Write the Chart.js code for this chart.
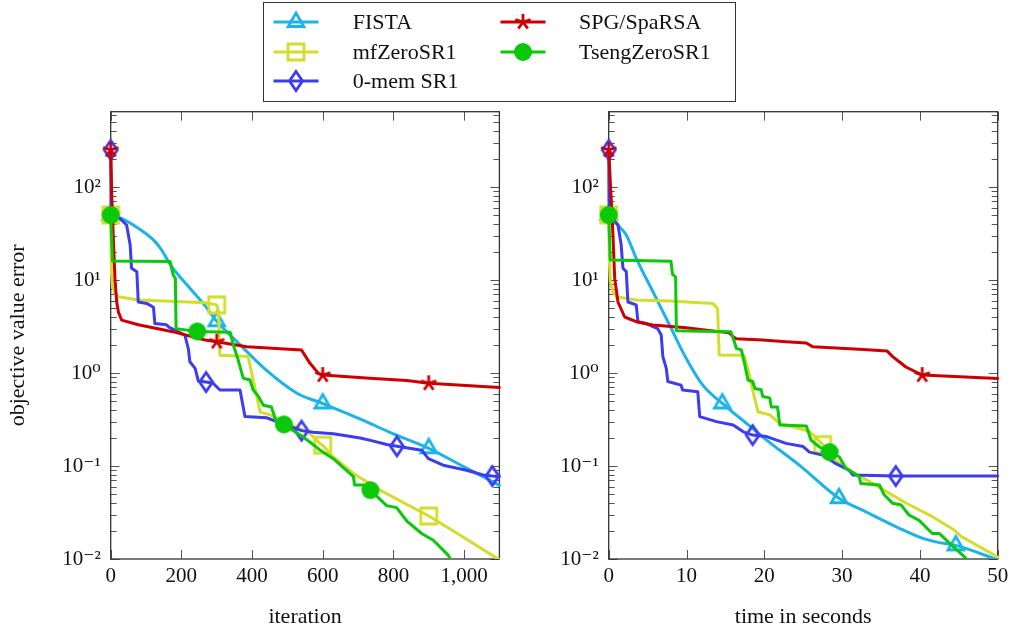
<!DOCTYPE html>
<html><head><meta charset="utf-8">
<script src="https://cdn.jsdelivr.net/npm/chart.js@4/dist/chart.umd.min.js"></script>
<style>
html,body{margin:0;padding:0;width:1012px;height:626px;overflow:hidden;background:#fff;}
.wrap{position:absolute;top:0;width:506px;height:640px;}
#legendBox{position:absolute;left:263px;top:2px;width:473px;height:100px;border:1.3px solid #333;box-sizing:border-box;}
.ltext{position:absolute;height:30px;line-height:30px;font-family:'Liberation Serif','DejaVu Serif',serif;font-size:22px;color:#111;white-space:nowrap;}
.lsym{position:absolute;}
</style>
</head><body>
<div class="wrap" style="left:0"><canvas id="c1" width="506" height="640"></canvas></div>
<div class="wrap" style="left:506px"><canvas id="c2" width="506" height="640"></canvas></div>
<div id="legendBox"></div>
<div id="legend"></div>
<script>
// ---------- tick labels ----------
const yTickValues = [0.01, 0.1, 1, 10, 100];
const yTickLabels = ['10\u207B\u00B2', '10\u207B\u00B9', '10\u2070', '10\u00B9', '10\u00B2'];
const xTicksIter = [0, 200, 400, 600, 800, 1000];
const xTickLabelsIter = ['0', '200', '400', '600', '800', '1,000'];
const xTicksTime = [0, 10, 20, 30, 40, 50];
const xTickLabelsTime = ['0', '10', '20', '30', '40', '50'];

// ---------- iteration panel ----------
const fistaIterX = [0,30,78,125,144,172,220,267,300,361,437,526,600,715,790,900,1000,1100];
const fistaIterY = [50,46,36,26,21,14,8.5,5.3,3.6,2.1,1.1,0.61,0.47,0.31,0.23,0.155,0.098,0.062];
const fistaIterMarks = [0,300,600,900];

const mfIterX = [0,2,5,12,22,78,172,267,300,305,309,389,423,451,488,560,592,600,629,687,762,900,979,1100];
const mfIterY = [50,12,8.5,7.2,6.6,6.1,5.9,5.7,5.4,4.6,1.55,1.5,0.38,0.355,0.30,0.23,0.175,0.167,0.126,0.083,0.055,0.029,0.019,0.0098];
const mfIterMarks = [0,300,600,900];

const memIterX = [0,1,26,45,55,59,74,78,102,121,125,158,166,210,220,224,239,248,270,290,309,366,380,441,470,540,573,630,706,744,781,810,880,899,941,1007,1054,1080,1100];
const memIterY = [250,50,46,39,24,13.4,12.3,5.8,5.6,5.1,3.4,3.3,3.1,2.56,1.8,1.32,1.12,0.82,0.80,0.775,0.656,0.656,0.34,0.33,0.30,0.24,0.23,0.222,0.2,0.185,0.17,0.163,0.148,0.12,0.102,0.09,0.08,0.078,0.077];
const memIterMarks = [0,270,540,810,1080];

const spgIterX = [0,3,8,12,17,22,31,78,172,267,300,385,540,564,588,600,733,838,900,1100];
const spgIterY = [250,80,25,10.4,5.8,4.5,3.7,3.3,2.8,2.26,2.17,1.92,1.77,1.27,0.99,0.95,0.88,0.83,0.775,0.70];
const spgIterMarks = [0,300,600,900];

const tsengIterX = [0,5,168,177,183,185,245,338,347,361,375,394,403,418,432,455,467,490,545,592,630,687,690,715,735,781,809,838,880,913,955,965];
const tsengIterY = [50,16,15.8,11.3,10.4,3.0,2.8,2.75,2.0,1.37,0.88,0.84,0.66,0.56,0.45,0.43,0.31,0.28,0.205,0.149,0.12,0.077,0.0625,0.0625,0.055,0.0375,0.0357,0.0256,0.0188,0.0159,0.011,0.0095];
const tsengIterMarks = [0,245,490,735];

// ---------- time panel ----------
const fistaTimeX = [0,0.77,1.19,2.26,3.54,5.68,7.82,9.95,12.09,14.6,16.4,18.5,20.3,24.5,29.6,33.1,37.3,40.1,42.5,44.6,50];
const fistaTimeY = [50,44,39,30.5,17.1,7.5,3.28,1.44,0.74,0.47,0.353,0.254,0.19,0.102,0.045,0.032,0.0215,0.017,0.015,0.014,0.0098];
const fistaTimeMarks = [0,14.6,29.6,44.6];

const mfTimeX = [0,0.1,0.2,0.5,1.0,3.5,7.8,13.4,14.0,14.2,17.4,17.9,18.5,19.2,20.7,22.0,24.5,25.8,26.4,27.5,28.8,31,33.9,38.2,41.6,44.4,45.3,50];
const mfTimeY = [50,15,9.9,7.5,6.6,6.1,5.94,5.6,4.9,1.56,1.55,1.11,0.66,0.38,0.355,0.286,0.253,0.235,0.21,0.17,0.12,0.09,0.065,0.04,0.0285,0.0205,0.0175,0.0105];
const mfTimeMarks = [0,27.5];

const memTimeX = [0,0.05,1.19,1.6,1.83,2.26,2.47,3.54,3.76,4.8,6.3,6.75,6.96,7.4,7.6,9.3,9.5,11.45,11.7,13.85,16,17.3,18.5,20.3,22.8,25,25.8,27.5,29.2,30.9,31.4,36.9,50];
const memTimeY = [250,50,39,24,13.4,12.3,5.8,5.4,3.56,3.4,3.0,2.56,1.5,1.12,0.81,0.74,0.656,0.63,0.34,0.3,0.276,0.233,0.215,0.207,0.175,0.162,0.141,0.131,0.106,0.09,0.08,0.078,0.078];
const memTimeMarks = [0,18.5,36.9];

const spgTimeX = [0,0.3,0.55,0.77,1.19,2.05,3.54,5.68,9.95,15.5,16.0,16.4,19.8,22.8,25.4,26.2,32.2,35.8,36.5,37.3,38.2,40.3,50];
const spgTimeY = [250,80,30,10.4,5.8,4.0,3.56,3.28,3.07,2.7,2.45,2.33,2.26,2.17,2.1,1.92,1.8,1.72,1.5,1.33,1.16,0.95,0.875];
const spgTimeMarks = [0,40.3];

const tsengTimeX = [0,0.2,8.0,8.2,8.6,8.7,15.7,16.15,16.4,17.05,17.5,17.9,18.5,18.8,19.6,19.8,20.7,20.9,21.7,22.0,25.4,26.0,27.1,28.4,29.65,30.5,32.2,32.4,34.8,35.4,36.5,37.6,38.6,39.9,41.6,42.5,43.8,45.7,46.2];
const tsengTimeY = [50,16.4,15.9,11.5,10.8,2.84,2.78,2.17,1.84,1.77,1.22,0.84,0.81,0.68,0.66,0.56,0.54,0.43,0.43,0.276,0.27,0.19,0.16,0.141,0.125,0.094,0.077,0.065,0.0625,0.049,0.0397,0.038,0.0297,0.026,0.0188,0.0188,0.0148,0.0106,0.0095];
const tsengTimeMarks = [0,28.4];

const seriesNames = ['FISTA', 'mfZeroSR1', '0-mem SR1', 'SPG/SpaRSA', 'TsengZeroSR1'];
const seriesColors = ['#1ab4e8', '#d4dc2c', '#3c3cf0', '#cc0000', '#0ac80a'];
const seriesMarkers = ['triangle', 'square', 'diamond', 'star', 'circle'];
const seriesSmooth = [true, false, false, false, false];

// ---------- marker drawing ----------
function drawMarker(g, kind, color) {
  g.save();
  g.strokeStyle = color; g.fillStyle = color; g.lineWidth = 2.8; g.lineJoin = 'miter';
  g.beginPath();
  if (kind === 'triangle') { g.moveTo(0,-9); g.lineTo(7.8,4.5); g.lineTo(-7.8,4.5); g.closePath(); g.stroke(); }
  else if (kind === 'square') { g.rect(-8,-8,16,16); g.stroke(); }
  else if (kind === 'diamond') { g.moveTo(0,-9.5); g.lineTo(6.5,0); g.lineTo(0,9.5); g.lineTo(-6.5,0); g.closePath(); g.stroke(); }
  else if (kind === 'star') { for (let i=0;i<5;i++){ const a=-Math.PI/2+i*2*Math.PI/5; g.moveTo(0,0); g.lineTo(8*Math.cos(a),8*Math.sin(a)); } g.stroke(); }
  else if (kind === 'circle') { g.arc(0,0,9,0,Math.PI*2); g.fill(); }
  g.restore();
}
function makeMarker(kind, color) {
  const c = document.createElement('canvas'); c.width = 26; c.height = 26;
  const g = c.getContext('2d'); g.translate(13,13); drawMarker(g, kind, color);
  return c;
}

function series(i, xs, ys, marks) {
  const color = seriesColors[i];
  return {
    label: seriesNames[i],
    data: xs.map((x, k) => ({x: x, y: ys[k]})),
    borderColor: color, backgroundColor: color, borderWidth: 3,
    pointStyle: makeMarker(seriesMarkers[i], color),
    pointRadius: ctx => (ctx.raw && marks.includes(ctx.raw.x)) ? 9 : 0,
    pointHoverRadius: 0, pointHitRadius: 0,
    tension: 0, cubicInterpolationMode: seriesSmooth[i] ? 'monotone' : 'default',
    order: 5 - i,
    borderJoinStyle: 'round', borderCapStyle: 'round',
    clip: {left: 14, right: 14, top: 14, bottom: 0}
  };
}

const FONT = "'Liberation Serif','DejaVu Serif',serif";

const axisPlugin = {
  id: 'pgfaxis',
  beforeDatasetsDraw(chart, args, opts) {
    const {ctx, chartArea: a} = chart;
    const x = chart.scales.x, y = chart.scales.y;
    ctx.save();
    ctx.strokeStyle = '#555'; ctx.lineWidth = 1;
    ctx.beginPath();
    for (const v of opts.xTicks) {
      const px = Math.round(x.getPixelForValue(v)) + 0.5;
      ctx.moveTo(px, a.bottom); ctx.lineTo(px, a.bottom - 9);
      ctx.moveTo(px, a.top); ctx.lineTo(px, a.top + 9);
    }
    for (let d = -2; d <= 2; d++) {
      for (let k = 1; k <= 9; k++) {
        const v = k * Math.pow(10, d);
        if (v < y.min || v > y.max) continue;
        const py = Math.round(y.getPixelForValue(v)) + 0.5;
        const len = k === 1 ? 9 : 6;
        ctx.moveTo(a.left, py); ctx.lineTo(a.left + len, py);
        ctx.moveTo(a.right, py); ctx.lineTo(a.right - len, py);
      }
    }
    ctx.stroke();
    ctx.strokeStyle = '#333'; ctx.lineWidth = 1.3;
    ctx.strokeRect(a.left, a.top, a.right - a.left, a.bottom - a.top);
    ctx.restore();
  }
};

function makeChart(id, datasets, xmax, xTicks, xLabels, xTitle, yWidth, padRight, showYTitle) {
  return new Chart(document.getElementById(id), {
    type: 'line',
    data: {datasets},
    plugins: [axisPlugin],
    options: {
      responsive: false, animation: false, events: [],
      layout: {autoPadding: false, padding: {left: 0, top: 111.7, right: padRight, bottom: 0}},
      plugins: {legend: {display: false}, tooltip: {enabled: false}, pgfaxis: {xTicks}},
      scales: {
        x: {
          type: 'linear', min: 0, max: xmax,
          afterBuildTicks: s => { s.ticks = xTicks.map(v => ({value: v})); },
          afterFit: s => { s.height = 81; s.paddingLeft = 0; s.paddingRight = 0; },
          ticks: {callback: (v, i) => xLabels[i], padding: 5, font: {family: FONT, size: 21}, color: '#111', maxRotation: 0, autoSkip: false},
          grid: {display: false, drawTicks: false}, border: {display: false},
          title: {display: true, text: xTitle, font: {family: FONT, size: 22}, color: '#111', padding: {top: 0, bottom: 10}}
        },
        y: {
          type: 'logarithmic', min: 0.01, max: 645,
          afterBuildTicks: s => { s.ticks = yTickValues.map(v => ({value: v, major: true})); },
          afterFit: s => { s.width = yWidth; s.paddingTop = 0; s.paddingBottom = 0; },
          ticks: {callback: (v, i) => yTickLabels[i], padding: 10, font: {family: FONT, size: 21}, color: '#111', autoSkip: false},
          grid: {display: false, drawTicks: false}, border: {display: false},
          title: {display: showYTitle, text: 'objective value error', font: {family: FONT, size: 22}, color: '#111', padding: {top: 5, bottom: 0}}
        }
      }
    }
  });
}

makeChart('c1', [
  series(0, fistaIterX, fistaIterY, fistaIterMarks),
  series(1, mfIterX, mfIterY, mfIterMarks),
  series(2, memIterX, memIterY, memIterMarks),
  series(3, spgIterX, spgIterY, spgIterMarks),
  series(4, tsengIterX, tsengIterY, tsengIterMarks)
], 1100, xTicksIter, xTickLabelsIter, 'iteration', 110.7, 6.6, true);

makeChart('c2', [
  series(0, fistaTimeX, fistaTimeY, fistaTimeMarks),
  series(1, mfTimeX, mfTimeY, mfTimeMarks),
  series(2, memTimeX, memTimeY, memTimeMarks),
  series(3, spgTimeX, spgTimeY, spgTimeMarks),
  series(4, tsengTimeX, tsengTimeY, tsengTimeMarks)
], 50, xTicksTime, xTickLabelsTime, 'time in seconds', 102.7, 14.3, false);

// ---------- legend ----------
const legendPos = [[273, 352.7, 22], [273, 352.7, 52], [273, 352.7, 81], [500, 579, 22], [500, 579, 52]];
const legend = document.getElementById('legend');
seriesNames.forEach((name, i) => {
  const [lx, tx, cy] = legendPos[i];
  const c = document.createElement('canvas'); c.width = 50; c.height = 30; c.className = 'lsym';
  c.style.left = (lx - 2.5) + 'px'; c.style.top = (cy - 15) + 'px';
  const g = c.getContext('2d');
  g.strokeStyle = seriesColors[i]; g.lineWidth = 3;
  g.beginPath(); g.moveTo(2.5, 15); g.lineTo(47.5, 15); g.stroke();
  g.translate(25, 15); drawMarker(g, seriesMarkers[i], seriesColors[i]);
  legend.appendChild(c);
  const t = document.createElement('div'); t.className = 'ltext'; t.textContent = name;
  t.style.left = tx + 'px'; t.style.top = (cy - 15) + 'px';
  legend.appendChild(t);
});
</script>
</body></html>
